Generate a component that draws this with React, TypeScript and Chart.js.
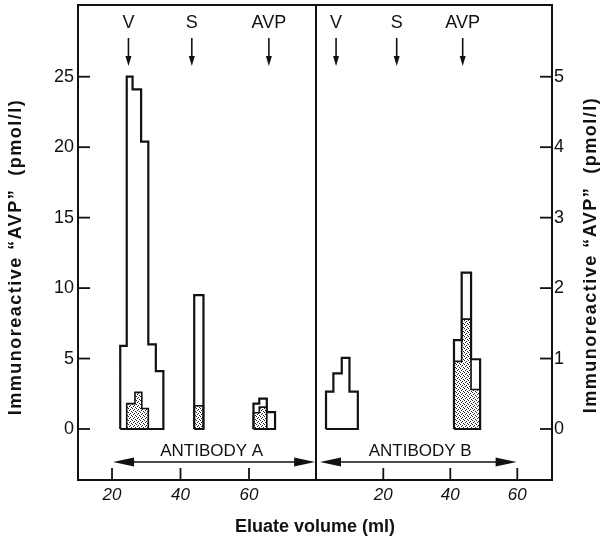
import React, { useEffect, useRef } from 'react';
import { Chart, registerables } from 'chart.js';

Chart.register(...registerables);

// ---------- DATA (eluate volume in ml, immunoreactivity in pmol/l) ----------
// Antibody A (left axis)
const aVEdges = [22.4, 24.3, 26.0, 28.5, 30.6, 32.8, 35.0];
const aVTotal = [5.9, 25.0, 24.1, 20.4, 6.0, 4.1];
const aVStipEdges = [24.3, 26.7, 28.7, 30.6];
const aVStip = [1.8, 2.6, 1.45];
const aSEdges = [44.0, 46.7];
const aSTotal = [9.5];
const aSStip = [1.65];
const aAvpEdges = [61.3, 63.0, 65.2, 67.6];
const aAvpTotal = [1.8, 2.15, 1.2];
const aAvpStipEdges = [61.3, 63.0, 65.2];
const aAvpStip = [1.15, 1.55];

// Antibody B (right axis)
const bVEdges = [2.9, 5.1, 7.6, 9.9, 12.4];
const bVTotal = [0.53, 0.79, 1.01, 0.53];
const bAvpEdges = [41.1, 43.4, 46.2, 48.9];
const bAvpTotal = [1.26, 2.22, 0.99];
const bAvpStip = [0.96, 1.56, 0.56];

// Axes / ticks
const xTicks = [20, 40, 60];
const yTicksA = [0, 5, 10, 15, 20, 25];
const yTicksB = [0, 1, 2, 3, 4, 5];

// Elution markers (void, salt, AVP)
const markerLabels = ['V', 'S', 'AVP'];
const markersA = [24.8, 43.3, 65.8];
const markersB = [5.9, 24.0, 43.7];

// Antibody range arrows: [from, to, label centre]
const rangeLabels = ['ANTIBODY A', 'ANTIBODY B'];
const rangeA = [20.3, 79.3, 49.1];
const rangeB = [1.1, 59.8, 31.0];

const yTitle = 'Immunoreactive “AVP”  (pmol/l)';
const xTitle = 'Eluate volume (ml)';

// ---------- helpers ----------
const FONT = "'Liberation Sans', Arial, Helvetica, sans-serif";
const INK = '#111';

function steps(edges: number[], heights: number[], close: boolean) {
  const pts: { x: number; y: number }[] = [{ x: edges[0], y: 0 }];
  heights.forEach((h, i) => {
    pts.push({ x: edges[i], y: h });
    pts.push({ x: edges[i + 1], y: h });
  });
  pts.push({ x: edges[edges.length - 1], y: 0 });
  if (close) pts.push({ x: edges[0], y: 0 });
  return pts;
}

function makeStipple(): CanvasPattern | string {
  const c = document.createElement('canvas');
  c.width = 4;
  c.height = 4;
  const g = c.getContext('2d');
  if (!g) return '#bbb';
  g.fillStyle = '#fff';
  g.fillRect(0, 0, 4, 4);
  g.fillStyle = '#222';
  g.fillRect(0, 0, 1, 1);
  g.fillRect(2, 1, 1, 1);
  g.fillRect(1, 2, 1, 1);
  g.fillRect(3, 3, 1, 1);
  return g.createPattern(c, 'repeat') || '#bbb';
}

function outline(data: { x: number; y: number }[]) {
  return {
    data,
    borderColor: INK,
    borderWidth: 2.2,
    pointRadius: 0,
    fill: false,
    tension: 0,
    borderJoinStyle: 'miter' as const,
  };
}

function stipple(data: { x: number; y: number }[], pattern: CanvasPattern | string) {
  return {
    data,
    borderColor: INK,
    borderWidth: 1.6,
    pointRadius: 0,
    fill: 'origin',
    backgroundColor: pattern,
    tension: 0,
    borderJoinStyle: 'miter' as const,
  };
}

function arrowHead(ctx: CanvasRenderingContext2D, tx: number, ty: number, dx: number, dy: number, len: number, half: number) {
  const bx = tx - dx * len;
  const by = ty - dy * len;
  ctx.beginPath();
  ctx.moveTo(tx, ty);
  ctx.lineTo(bx - dy * half, by + dx * half);
  ctx.lineTo(bx + dy * half, by - dx * half);
  ctx.closePath();
  ctx.fill();
}

function drawYTitle(ctx: CanvasRenderingContext2D, cx: number, cy: number) {
  ctx.save();
  ctx.translate(cx, cy);
  ctx.rotate(-Math.PI / 2);
  ctx.font = `bold 18px ${FONT}`;
  (ctx as any).letterSpacing = '1.5px';
  ctx.fillStyle = INK;
  ctx.textAlign = 'center';
  ctx.textBaseline = 'middle';
  ctx.fillText(yTitle, 0, 0);
  ctx.restore();
}

function decorPlugin(side: 'A' | 'B') {
  return {
    id: 'decor' + side,
    afterDraw(chart: any) {
      const { ctx, chartArea: ca, scales } = chart;
      const xs = scales.x;
      const ys = scales.y;
      ctx.save();
      ctx.strokeStyle = INK;
      ctx.fillStyle = INK;
      // frame
      ctx.lineWidth = 2;
      ctx.strokeRect(ca.left, ca.top, ca.right - ca.left, ca.bottom - ca.top);
      // inward tick marks
      ctx.lineWidth = 1.8;
      for (const t of ys.ticks) {
        const py = ys.getPixelForValue(t.value);
        ctx.beginPath();
        if (side === 'A') {
          ctx.moveTo(ca.left, py);
          ctx.lineTo(ca.left + 12, py);
        } else {
          ctx.moveTo(ca.right, py);
          ctx.lineTo(ca.right - 12, py);
        }
        ctx.stroke();
      }
      for (const t of xs.ticks) {
        const px = xs.getPixelForValue(t.value);
        ctx.beginPath();
        ctx.moveTo(px, ca.bottom);
        ctx.lineTo(px, ca.bottom - 12);
        ctx.stroke();
      }
      // elution markers
      const markers = side === 'A' ? markersA : markersB;
      ctx.font = `18px ${FONT}`;
      ctx.textAlign = 'center';
      ctx.textBaseline = 'middle';
      markers.forEach((m, i) => {
        const px = xs.getPixelForValue(m);
        ctx.fillText(markerLabels[i], px, 23);
        ctx.lineWidth = 1.6;
        ctx.beginPath();
        ctx.moveTo(px, 38);
        ctx.lineTo(px, 58);
        ctx.stroke();
        arrowHead(ctx, px, 66, 0, 1, 10, 3);
      });
      // antibody range arrow
      const r = side === 'A' ? rangeA : rangeB;
      const x0 = xs.getPixelForValue(r[0]);
      const x1 = xs.getPixelForValue(r[1]);
      const ay = 462;
      ctx.lineWidth = 1.6;
      ctx.beginPath();
      ctx.moveTo(x0 + 10, ay);
      ctx.lineTo(x1 - 10, ay);
      ctx.stroke();
      arrowHead(ctx, x0, ay, -1, 0, 21, 4.5);
      arrowHead(ctx, x1, ay, 1, 0, 21, 4.5);
      ctx.font = `17px ${FONT}`;
      ctx.fillText(rangeLabels[side === 'A' ? 0 : 1], xs.getPixelForValue(r[2]), 451);
      // titles
      if (side === 'A') {
        drawYTitle(ctx, 16, 257);
      } else {
        drawYTitle(ctx, 591, 255);
        ctx.font = `bold 18px ${FONT}`;
        ctx.textAlign = 'center';
        ctx.textBaseline = 'middle';
        ctx.fillText(xTitle, 315, 527);
      }
      ctx.restore();
    },
  };
}

function makeOptions(side: 'A' | 'B') {
  const isA = side === 'A';
  return {
    animation: false as const,
    responsive: false,
    maintainAspectRatio: false,
    events: [],
    layout: { padding: isA ? { left: 0, right: 287, top: 5, bottom: 0 } : { left: 316, right: 0, top: 5, bottom: 0 } },
    plugins: { legend: { display: false }, tooltip: { enabled: false }, title: { display: false } },
    scales: {
      x: {
        type: 'linear' as const,
        min: isA ? 10.07 : -0.09,
        max: isA ? 79.56 : 70.36,
        afterBuildTicks: (s: any) => {
          s.ticks = xTicks.map((v) => ({ value: v }));
        },
        afterFit: (s: any) => {
          s.height = 60;
          s.paddingLeft = 0;
          s.paddingRight = 0;
        },
        grid: { display: false, drawTicks: false },
        border: { display: false },
        ticks: {
          font: { family: FONT, size: 17, style: 'italic' as const },
          color: INK,
          padding: 5,
          maxRotation: 0,
          autoSkip: false,
          callback: (v: any) => String(v),
        },
      },
      y: {
        type: 'linear' as const,
        position: isA ? ('left' as const) : ('right' as const),
        min: isA ? -3.62 : -0.724,
        max: isA ? 30.09 : 6.018,
        afterBuildTicks: (s: any) => {
          s.ticks = (isA ? yTicksA : yTicksB).map((v) => ({ value: v }));
        },
        afterFit: (s: any) => {
          s.width = isA ? 78 : 51;
          s.paddingTop = 0;
          s.paddingBottom = 0;
        },
        grid: { display: false, drawTicks: false },
        border: { display: false },
        ticks: {
          font: { family: FONT, size: 18 },
          color: INK,
          padding: isA ? 4 : 2,
          autoSkip: false,
          callback: (v: any) => String(v),
        },
      },
    },
  };
}

export default function App() {
  const refA = useRef<HTMLCanvasElement | null>(null);
  const refB = useRef<HTMLCanvasElement | null>(null);

  useEffect(() => {
    if (!refA.current || !refB.current) return;
    const pat = makeStipple();
    const chartA = new Chart(refA.current, {
      type: 'line',
      data: {
        datasets: [
          outline(steps(aVEdges, aVTotal, true)),
          outline(steps(aSEdges, aSTotal, true)),
          outline(steps(aAvpEdges, aAvpTotal, true)),
          stipple(steps(aVStipEdges, aVStip, false), pat),
          stipple(steps(aSEdges, aSStip, false), pat),
          stipple(steps(aAvpStipEdges, aAvpStip, false), pat),
        ] as any,
      },
      options: makeOptions('A') as any,
      plugins: [decorPlugin('A')],
    });
    const chartB = new Chart(refB.current, {
      type: 'line',
      data: {
        datasets: [
          outline(steps(bVEdges, bVTotal, true)),
          outline(steps(bAvpEdges, bAvpTotal, true)),
          stipple(steps(bAvpEdges, bAvpStip, false), pat),
        ] as any,
      },
      options: makeOptions('B') as any,
      plugins: [decorPlugin('B')],
    });
    return () => {
      chartA.destroy();
      chartB.destroy();
    };
  }, []);

  const cStyle: React.CSSProperties = { position: 'absolute', left: 0, top: 0, width: 603, height: 540, display: 'block' };
  return (
    <div style={{ position: 'absolute', left: 0, top: 0, width: 603, height: 540, background: '#fff' }}>
      <canvas ref={refA} width={603} height={540} style={cStyle} />
      <canvas ref={refB} width={603} height={540} style={cStyle} />
    </div>
  );
}
